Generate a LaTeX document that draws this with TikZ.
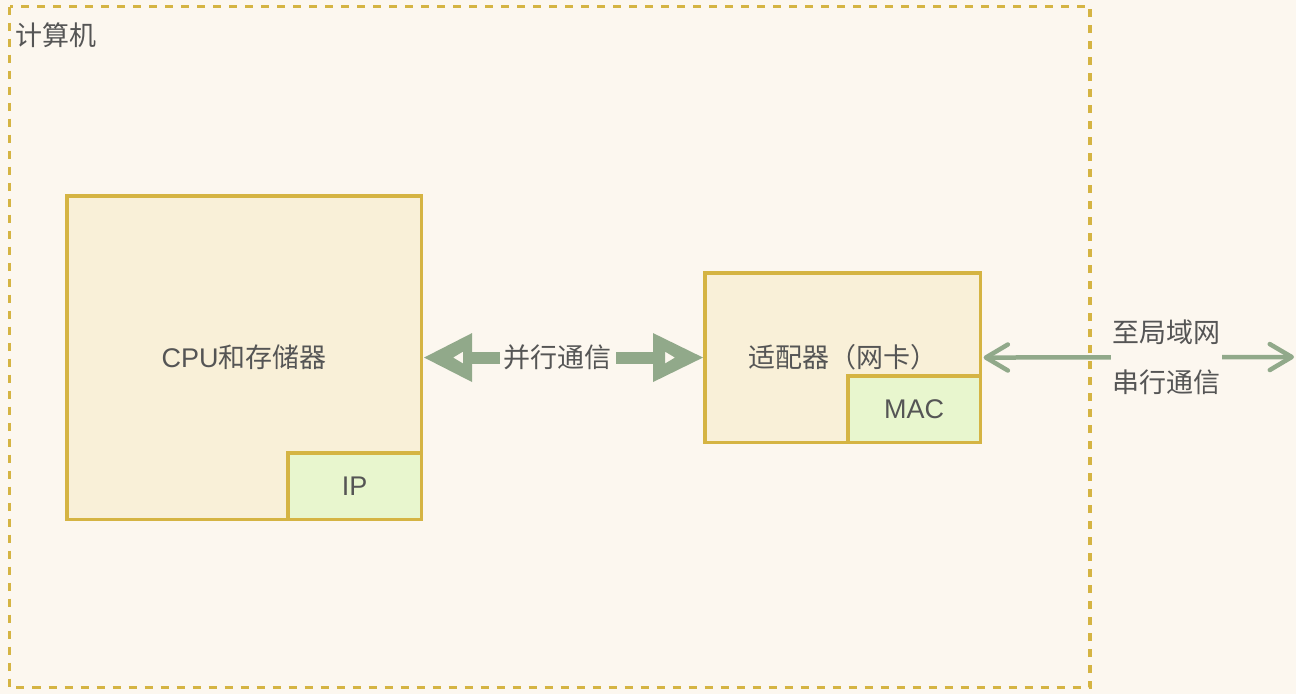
\documentclass[tikz,border=0pt]{standalone}
\usepackage{fontspec}
\setmainfont{Liberation Sans}
\newfontfamily\cjk{Noto Sans CJK SC}
\usetikzlibrary{arrows.meta}
\definecolor{bg}{HTML}{FCF7EF}
\definecolor{gold}{HTML}{D5B443}
\definecolor{boxfill}{HTML}{F9F0D8}
\definecolor{ipfill}{HTML}{E8F6CE}
\definecolor{sage}{HTML}{91A98A}
\definecolor{txt}{HTML}{555555}
\begin{document}
\begin{tikzpicture}[x=1pt,y=-1pt,
  every node/.style={text=txt, font=\fontsize{27}{32}\selectfont},
  box/.style={draw=gold, line width=3.6pt, fill=boxfill, inner sep=0pt},
  subbox/.style={box, fill=ipfill},
  lbl/.style={fill=bg, inner ysep=2pt},
  serial/.style={draw=sage, line width=4.5pt,
    {Straight Barb[length=22pt,width=26pt,line cap=round,line join=round]}-{Straight Barb[length=22pt,width=26pt,line cap=round,line join=round]}},
  shaft/.style={draw=sage, line width=12pt},
  head/.style={fill=sage, even odd rule}
]
\useasboundingbox (0,0) rectangle (1296,694);
\fill[bg] (0,0) rectangle (1296,694);
% computer frame
\draw[gold, line width=3.6pt, dash pattern=on 8pt off 8pt] (9.5,6.5) rectangle (1090,687.5);
\node[anchor=west, inner sep=0pt] (title) at (15,35) {\cjk 计算机};
% CPU box
\node[box, minimum width=354.5pt, minimum height=323.5pt, anchor=north west] (cpu) at (65,194) {CPU\cjk 和存储器};
\node[subbox, minimum width=133.5pt, minimum height=66.5pt, anchor=south east] (ip) at (cpu.south east) {IP};
% adapter
\node[box, minimum width=275.5pt, minimum height=169.5pt, anchor=north west] (nic) at (703,271) {\cjk 适配器（网卡）};
\node[subbox, minimum width=132.5pt, minimum height=66.5pt, anchor=south east] (mac) at (nic.south east) {MAC};
% parallel connector
\draw[shaft] ([xshift=46pt]cpu.east) -- ([xshift=-50pt]nic.west);
\fill[head] ([xshift=1pt]cpu.east) -- ++(48,-24.5) -- ++(0,49) -- cycle
  ([xshift=30pt]cpu.east) -- ++(10,-6) -- ++(0,12) -- cycle;
\fill[head] (nic.west) -- ++(-50,-24.5) -- ++(0,49) -- cycle
  ([xshift=-28pt]nic.west) -- ++(-10,-6) -- ++(0,12) -- cycle;
\node[lbl, inner xsep=4pt] (par) at (557.5,357) {\cjk 并行通信};
% serial connector
\coordinate (lan) at (1294,357);
\draw[serial] ([xshift=1.5pt]nic.east) -- (lan);
\node[lbl, inner xsep=1.5pt, align=center, font=\fontsize{27}{50}\selectfont] (ser) at (1166,357) {\cjk 至局域网\\\cjk 串行通信};
\end{tikzpicture}
\end{document}
